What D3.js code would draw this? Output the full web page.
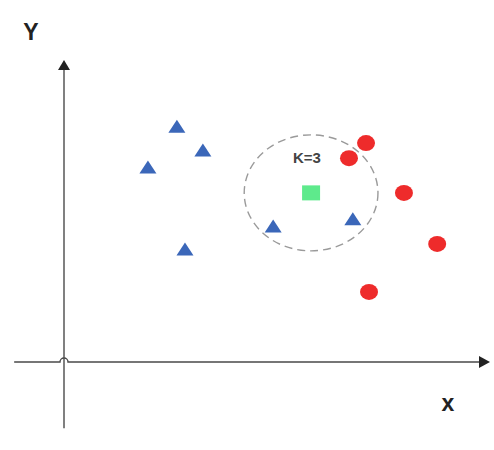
<!DOCTYPE html>
<html><head><meta charset="utf-8">
<script src="https://cdn.jsdelivr.net/npm/d3@7"></script>
<style>html,body{margin:0;padding:0;background:#fff}svg{display:block}</style>
</head><body><svg id="c" width="494" height="450"></svg>
<script>
// Class A (blue triangles)
const triX = [26.5, 32.6, 19.7, 28.4, 49.1, 67.8];
const triY = [78.1, 70.2, 64.6, 37.4, 45.0, 47.4];
// Class B (red circles)
const cirX = [70.9, 66.9, 79.8, 87.6, 71.6];
const cirY = [72.5, 67.5, 56.0, 39.1, 23.2];
// Query point (green square) and neighbourhood
const queryX = [58.0];
const queryY = [56.0];
const kRadiusX = [15.7];
const kRadiusY = [19.2];
const kLabel = ["K=3"];
const axisLabels = ["x", "Y"];

const svg = d3.select("#c");
const x = d3.scaleLinear().domain([0, 100]).range([64, 490]);
const y = d3.scaleLinear().domain([0, 100]).range([362, 60]);
const xMin = -11.7, yMin = -21.9;

const axisColor = "#4a4a4a";
// y axis
svg.append("line").attr("x1", x(0)).attr("x2", x(0))
  .attr("y1", y(yMin)).attr("y2", y(100) + 8)
  .attr("stroke", axisColor).attr("stroke-width", 1.4);
svg.append("path")
  .attr("d", `M${x(0)},${y(100)} L${x(0)+6},${y(100)+10} L${x(0)-6},${y(100)+10} Z`)
  .attr("fill", "#222");
// x axis with hop
const hx = x(0), hy = y(0);
svg.append("path")
  .attr("d", `M${x(xMin)},${hy} L${hx-4},${hy} A4,4 0 0 1 ${hx+4},${hy} L${x(100)-8},${hy}`)
  .attr("fill", "none").attr("stroke", axisColor).attr("stroke-width", 1.4);
svg.append("path")
  .attr("d", `M${x(100)},${hy} L${x(100)-11},${hy-6} L${x(100)-11},${hy+6} Z`)
  .attr("fill", "#222");

svg.append("text").attr("x", 448).attr("y", 411).attr("text-anchor", "middle")
  .attr("font-family", "Liberation Sans, Arial, sans-serif").attr("font-weight", "bold")
  .attr("font-size", 23).attr("fill", "#222").text(axisLabels[0]);
svg.append("text").attr("x", 31).attr("y", 40).attr("text-anchor", "middle")
  .attr("font-family", "Liberation Sans, Arial, sans-serif").attr("font-weight", "bold")
  .attr("font-size", 23).attr("fill", "#222").text(axisLabels[1]);

// dashed neighbourhood
svg.append("ellipse").attr("cx", x(queryX[0])).attr("cy", y(queryY[0]))
  .attr("rx", x(kRadiusX[0]) - x(0)).attr("ry", y(0) - y(kRadiusY[0]))
  .attr("fill", "none").attr("stroke", "#9a9a9a").attr("stroke-width", 1.4)
  .attr("stroke-dasharray", "8,5");

svg.append("text").attr("x", 307).attr("y", 163).attr("text-anchor", "middle")
  .attr("font-family", "Liberation Sans, Arial, sans-serif").attr("font-weight", "bold")
  .attr("font-size", 15).attr("fill", "#444").text(kLabel[0]);

// triangles
svg.selectAll("path.tri").data(d3.range(triX.length)).join("path").attr("class", "tri")
  .attr("transform", i => `translate(${x(triX[i])},${y(triY[i])})`)
  .attr("d", "M0,-6.5 L8.5,6.5 L-8.5,6.5 Z")
  .attr("fill", "#3b67b9");

// circles
svg.selectAll("ellipse.cir").data(d3.range(cirX.length)).join("ellipse").attr("class", "cir")
  .attr("cx", i => x(cirX[i])).attr("cy", i => y(cirY[i]))
  .attr("rx", 9).attr("ry", 8)
  .attr("fill", "#ee2b2b");

// query square
svg.selectAll("rect.q").data(d3.range(queryX.length)).join("rect").attr("class", "q")
  .attr("x", i => x(queryX[i]) - 9).attr("y", i => y(queryY[i]) - 7.5)
  .attr("width", 18).attr("height", 15)
  .attr("fill", "#5eea8c");
</script></body></html>
